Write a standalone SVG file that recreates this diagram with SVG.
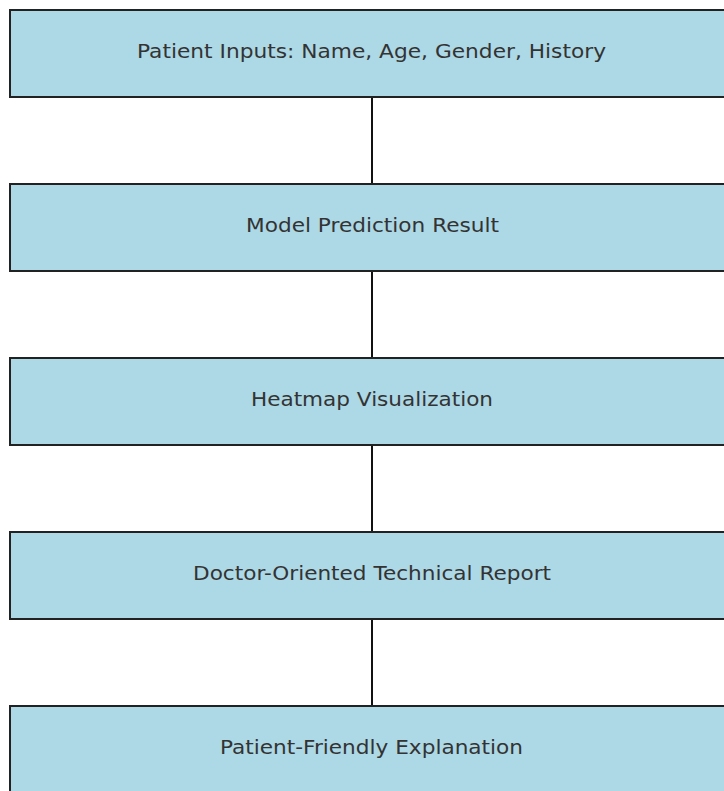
<svg xmlns="http://www.w3.org/2000/svg" width="724" height="791" viewBox="0 0 724 791">
<style>
.box{fill:#add8e6;stroke:#222;stroke-width:2}
.lbl{font-family:"DejaVu Sans","Verdana",sans-serif;font-size:19px;fill:#333;text-anchor:middle}
.conn{stroke:#111;stroke-width:2;fill:none}
</style>
<rect width="724" height="791" fill="#fff"/>
<g id="connectors">
<line class="conn" x1="372" y1="97" x2="372" y2="184"/>
<line class="conn" x1="372" y1="271" x2="372" y2="358"/>
<line class="conn" x1="372" y1="445" x2="372" y2="532"/>
<line class="conn" x1="372" y1="619" x2="372" y2="706"/>
</g>
<g id="n1"><rect class="box" x="10" y="10" width="723" height="87"/><text class="lbl" x="371.5" y="58" textLength="469" lengthAdjust="spacingAndGlyphs">Patient Inputs: Name, Age, Gender, History</text></g>
<g id="n2"><rect class="box" x="10" y="184" width="723" height="87"/><text class="lbl" x="372.5" y="232" textLength="253" lengthAdjust="spacingAndGlyphs">Model Prediction Result</text></g>
<g id="n3"><rect class="box" x="10" y="358" width="723" height="87"/><text class="lbl" x="372" y="406" textLength="242" lengthAdjust="spacingAndGlyphs">Heatmap Visualization</text></g>
<g id="n4"><rect class="box" x="10" y="532" width="723" height="87"/><text class="lbl" x="372" y="580" textLength="358" lengthAdjust="spacingAndGlyphs">Doctor-Oriented Technical Report</text></g>
<g id="n5"><rect class="box" x="10" y="706" width="723" height="87"/><text class="lbl" x="371.5" y="754" textLength="303" lengthAdjust="spacingAndGlyphs">Patient-Friendly Explanation</text></g>
</svg>
